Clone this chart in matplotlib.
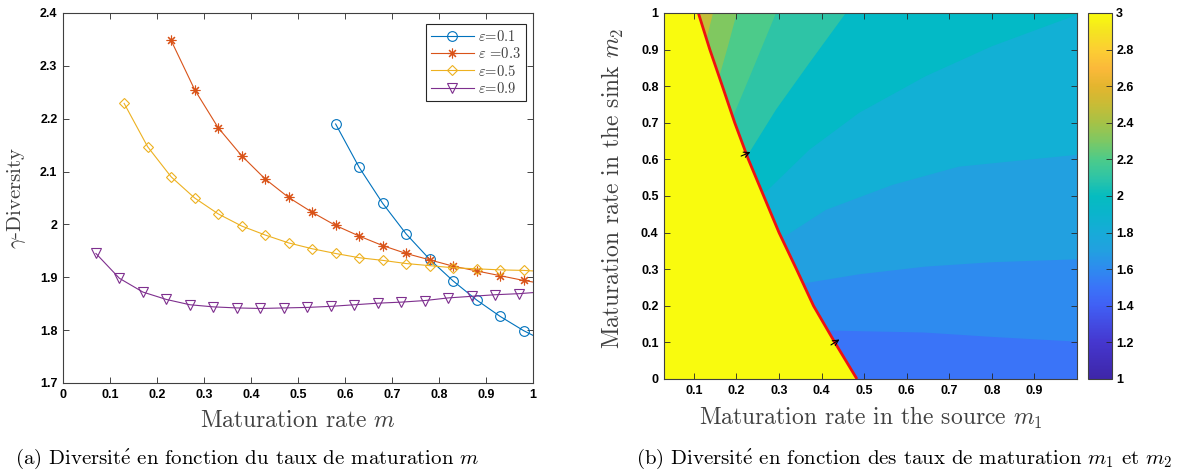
import matplotlib
matplotlib.use("Agg")
import matplotlib.pyplot as plt
import numpy as np
from matplotlib.colors import LinearSegmentedColormap, Normalize
from matplotlib.cm import ScalarMappable
from matplotlib.ticker import FormatStrFormatter

# ---- panel (a): gamma-diversity vs maturation rate (last point = line end at m=1)
m_eps01 = [0.58, 0.63, 0.68, 0.73, 0.78, 0.83, 0.88, 0.93, 0.98, 1.0]
div_eps01 = [2.190, 2.108, 2.040, 1.982, 1.934, 1.893, 1.857, 1.826, 1.799, 1.790]

m_eps03 = [0.23, 0.28, 0.33, 0.38, 0.43, 0.48, 0.53, 0.58, 0.63, 0.68, 0.73,
           0.78, 0.83, 0.88, 0.93, 0.98, 1.0]
div_eps03 = [2.348, 2.255, 2.183, 2.130, 2.086, 2.051, 2.023, 1.998, 1.978, 1.960,
             1.945, 1.933, 1.921, 1.912, 1.903, 1.894, 1.891]

m_eps05 = [0.13, 0.18, 0.23, 0.28, 0.33, 0.38, 0.43, 0.48, 0.53, 0.58, 0.63, 0.68,
           0.73, 0.78, 0.83, 0.88, 0.93, 0.98, 1.0]
div_eps05 = [2.229, 2.147, 2.090, 2.050, 2.020, 1.997, 1.980, 1.965, 1.954, 1.945,
             1.937, 1.932, 1.926, 1.922, 1.918, 1.916, 1.914, 1.913, 1.912]

m_eps09 = [0.07, 0.12, 0.17, 0.22, 0.27, 0.32, 0.37, 0.42, 0.47, 0.52, 0.57, 0.62,
           0.67, 0.72, 0.77, 0.82, 0.87, 0.92, 0.97, 1.0]
div_eps09 = [1.945, 1.898, 1.872, 1.858, 1.848, 1.844, 1.842, 1.841, 1.842, 1.843,
             1.845, 1.848, 1.851, 1.853, 1.856, 1.861, 1.864, 1.867, 1.869, 1.871]

labels_a = [r"$\varepsilon$=0.1", r"$\varepsilon$ =0.3", r"$\varepsilon$=0.5", r"$\varepsilon$=0.9"]

# ---- panel (b): contour boundaries (m1, m2), per level
levels_b = [1.6, 1.7, 1.8, 1.9, 2.0, 2.1, 2.2, 2.3]
bound_m1 = [
    [0.0, 0.43, 0.64, 0.80, 1.0],
    [0.0, 0.363, 0.488, 0.644, 0.80, 1.0],
    [0.0, 0.313, 0.41, 0.566, 0.722, 1.0],
    [0.0, 0.27, 0.371, 0.488, 0.644, 0.80, 1.0],
    [0.0, 0.231, 0.293, 0.371, 0.457, 0.47],
    [0.0, 0.192, 0.238, 0.293, 0.30],
    [0.0, 0.16, 0.18, 0.201, 0.205],
    [0.0, 0.13, 0.145, 0.147],
]
bound_m2 = [
    [0.133, 0.132, 0.127, 0.115, 0.102],
    [0.20, 0.262, 0.286, 0.307, 0.319, 0.327],
    [0.30, 0.389, 0.462, 0.530, 0.580, 0.6125],
    [0.42, 0.512, 0.626, 0.727, 0.827, 0.909, 0.995],
    [0.50, 0.62, 0.736, 0.863, 1.0, 1.03],
    [0.62, 0.717, 0.845, 1.0, 1.03],
    [0.75, 0.827, 0.909, 1.0, 1.03],
    [0.87, 0.93, 1.0, 1.03],
]
# existence limit (red curve)
limit_m1 = [0.1105, 0.1375, 0.167, 0.196, 0.228, 0.264, 0.300, 0.341, 0.381, 0.431, 0.483]
limit_m2 = [1.0, 0.9, 0.8, 0.7, 0.6, 0.5, 0.4, 0.3, 0.2, 0.1, 0.0]

# styles
colors_a = ["#0072bd", "#d95319", "#edb120", "#7e2f8e"]
markers_a = ["o", (8, 2, 0), "D", "v"]
msizes_a = [7, 7, 5.5, 7]
band_colors = ["#3a74f8", "#2e8bef", "#22a0e0", "#12b0d5", "#03bac6",
               "#2ec4a6", "#4ccb8a", "#80c860", "#c2bd38"]
parula_like = LinearSegmentedColormap.from_list("parula_like", [
    (0.00, "#3e26a8"), (0.10, "#4537cf"), (0.20, "#4060f5"), (0.25, "#3a74f8"),
    (0.30, "#2e8bef"), (0.35, "#22a0e0"), (0.40, "#17abd8"), (0.45, "#0bb4cc"),
    (0.50, "#05bcc0"), (0.55, "#2ec4a6"), (0.60, "#4ccb8a"), (0.65, "#7dc864"),
    (0.70, "#a5c247"), (0.75, "#c8bc36"), (0.80, "#e3b52e"), (0.85, "#fbb93a"),
    (0.90, "#fcce33"), (0.95, "#f5e321"), (1.00, "#f9fb0e")])

serif = ["cmr10", "DejaVu Serif"]
plt.rcParams["mathtext.fontset"] = "cm"
plt.rcParams["axes.formatter.use_mathtext"] = True
tick_font = dict(family="Liberation Sans", weight="bold", size=9)
label_color = "#404040"


def style_axes(ax):
    ax.tick_params(direction="in", top=True, right=True, length=4, width=0.6,
                   color="#262626", pad=4)
    for lab in ax.get_xticklabels() + ax.get_yticklabels():
        lab.set_fontproperties(tick_font)
    for sp in ax.spines.values():
        sp.set_color("#404040")
        sp.set_linewidth(0.8)


fig = plt.figure(figsize=(12.03, 4.76), dpi=100)

# ---------------- (a)
ax1 = fig.add_axes([0.0524, 0.1954, 0.3907, 0.7773])
series = [(m_eps01, div_eps01), (m_eps03, div_eps03), (m_eps05, div_eps05), (m_eps09, div_eps09)]
for (x, y), c, mk, ms, lab in zip(series, colors_a, markers_a, msizes_a, labels_a):
    ax1.plot(x, y, color=c, lw=0.8, marker=mk, ms=ms, mfc="none", mec=c, mew=0.8,
             markevery=slice(0, len(x) - 1), label=lab)
ax1.set_xlim(0, 1)
ax1.set_ylim(1.7, 2.4)
ax1.set_xticks(np.arange(0, 1.01, 0.1))
ax1.set_yticks(np.arange(1.7, 2.41, 0.1))
ax1.xaxis.set_major_formatter(FormatStrFormatter("%g"))
ax1.yaxis.set_major_formatter(FormatStrFormatter("%g"))
style_axes(ax1)
ax1.set_xlabel("Maturation rate $m$", family=serif, size=17, color=label_color)
ax1.set_ylabel(r"$\gamma$-Diversity", family=serif, size=15, color=label_color)
ax1.xaxis.set_label_coords(0.5, -0.072)
ax1.yaxis.set_label_coords(-0.075, 0.5)
leg = ax1.legend(loc="upper right", bbox_to_anchor=(0.985, 0.97), borderaxespad=0,
                 prop=dict(family=serif, size=10.5), fancybox=False, framealpha=1,
                 edgecolor="#262626", handlelength=2.9, handletextpad=0.3,
                 labelspacing=0.15, borderpad=0.35)
leg.get_frame().set_linewidth(0.8)
for t in leg.get_texts():
    t.set_color(label_color)

# ---------------- (b)
ax2 = fig.add_axes([0.552, 0.2038, 0.3433, 0.769])
ax2.set_facecolor(band_colors[0])
for bx, by, col in zip(bound_m1, bound_m2, band_colors[1:]):
    px = list(bx) + [bx[-1], bx[0]]
    py = list(by) + [1.2, 1.2]
    ax2.fill(px, py, color=col, lw=0)
yellow = parula_like(1.0)
ax2.fill(limit_m1 + [0.0, 0.0], limit_m2 + [0.0, 1.0], color=yellow, lw=0)
ax2.plot(limit_m1, limit_m2, color="#ee1111", lw=2.0, solid_capstyle="butt")
ax2.annotate("", xy=(0.233, 0.620), xytext=(0.211, 0.609),
             arrowprops=dict(arrowstyle="->", color="k", lw=0.8, shrinkA=0, shrinkB=0))
ax2.annotate("", xy=(0.442, 0.108), xytext=(0.422, 0.093),
             arrowprops=dict(arrowstyle="->", color="k", lw=0.8, shrinkA=0, shrinkB=0))
ax2.set_xlim(0.03, 1.0)
ax2.set_ylim(0, 1)
ax2.set_xticks(np.arange(0.1, 0.91, 0.1))
ax2.set_yticks(np.arange(0, 1.01, 0.1))
ax2.xaxis.set_major_formatter(FormatStrFormatter("%g"))
ax2.yaxis.set_major_formatter(FormatStrFormatter("%g"))
style_axes(ax2)
ax2.set_xlabel("Maturation rate in the source $m_1$", family=serif, size=17, color=label_color)
ax2.set_ylabel("Maturation rate in the sink $m_2$", family=serif, size=17, color=label_color)
ax2.xaxis.set_label_coords(0.5, -0.072)
ax2.yaxis.set_label_coords(-0.092, 0.52)

cax = fig.add_axes([0.9044, 0.2038, 0.02, 0.769])
cb = fig.colorbar(ScalarMappable(norm=Normalize(1, 3), cmap=parula_like), cax=cax)
cb.set_ticks(np.arange(1, 3.01, 0.2))
cb.ax.yaxis.set_major_formatter(FormatStrFormatter("%g"))
cb.ax.tick_params(direction="in", length=4, width=0.6, color="#262626", pad=3)
for lab in cb.ax.get_yticklabels():
    lab.set_fontproperties(tick_font)
cb.outline.set_edgecolor("#404040")
cb.outline.set_linewidth(0.8)

# captions
fig.text(247 / 1203, 0.035, r"(a) Diversit$\acute{\mathrm{e}}$ en fonction du taux de maturation $m$",
         family=serif, size=15, ha="center", va="center")
fig.text(904 / 1203, 0.035, r"(b) Diversit$\acute{\mathrm{e}}$ en fonction des taux de maturation $m_1$ et $m_2$",
         family=serif, size=15, ha="center", va="center")

fig.savefig("out.png", dpi=100)
